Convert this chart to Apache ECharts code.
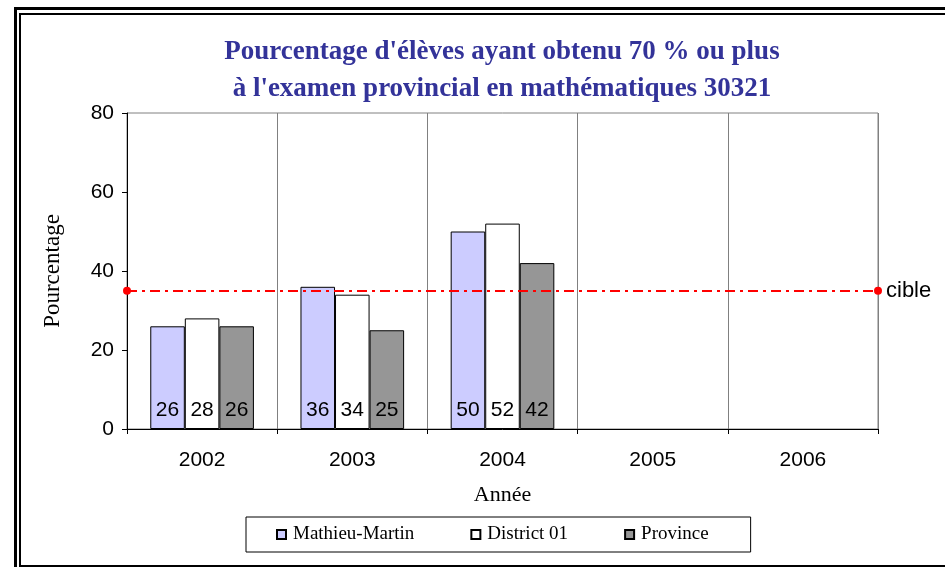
<!DOCTYPE html>
<html>
<head>
<meta charset="utf-8">
<style>
  html, body { margin: 0; padding: 0; background: #fff; }
  #chart { width: 945px; height: 567px; }
</style>
<script src="https://cdn.jsdelivr.net/npm/echarts@6/dist/echarts.min.js"></script>
</head>
<body>
<div id="chart"></div>
<script>
var years = ['2002', '2003', '2004', '2005', '2006'];
var mathieuMartin = [26, 36, 50, null, null];
var district01 = [28, 34, 52, null, null];
var province = [26, 25, 42, null, null];
var cibleValue = 35;
var yTicks = [0, 20, 40, 60, 80];

var myChart = echarts.init(document.getElementById('chart'));

function barSeries(name, data, color) {
    return {
        name: name,
        type: 'bar',
        data: data,
        barGap: '0%',
        barCategoryGap: '31%',
        itemStyle: { color: color, borderColor: '#000', borderWidth: 1 },
        label: {
            show: true,
            position: 'insideBottom',
            distance: 8,
            color: '#000',
            fontFamily: 'Liberation Sans, Arial',
            fontSize: 21
        }
    };
}

var series = [
    barSeries('Mathieu-Martin', mathieuMartin, '#ccccff'),
    barSeries('District 01', district01, '#ffffff'),
    barSeries('Province', province, '#969696')
];

// ligne cible
series[0].markLine = {
    silent: true,
    symbol: ['circle', 'circle'],
    symbolSize: 8,
    lineStyle: { color: '#ff0000', width: 2, type: [10, 5, 3, 5] },
    label: {
        show: true,
        position: 'end',
        distance: 8,
        formatter: 'cible',
        color: '#000',
        fontFamily: 'Liberation Sans, Arial',
        fontSize: 22
    },
    data: [{ yAxis: cibleValue }]
};

myChart.setOption({
    animation: false,
    backgroundColor: '#fff',
    title: {
        text: "Pourcentage d'élèves ayant obtenu 70 % ou plus\nà l'examen provincial en mathématiques 30321",
        left: 497,
        textAlign: 'center',
        top: 29,
        textStyle: {
            color: '#333399',
            fontFamily: 'Liberation Serif, Times New Roman',
            fontWeight: 'bold',
            fontSize: 27,
            lineHeight: 37
        }
    },
    graphic: [
        { type: 'rect', shape: { x: 15.5, y: 8.5, width: 1000, height: 600 },
          style: { fill: 'none', stroke: '#000', lineWidth: 3 } },
        { type: 'rect', shape: { x: 20, y: 14, width: 1000, height: 552 },
          style: { fill: 'none', stroke: '#000', lineWidth: 2 } }
    ],
    legend: {
        left: 246,
        top: 517,
        padding: [8, 42, 8, 30],
        itemGap: 56,
        itemWidth: 9,
        itemHeight: 9,
        icon: 'rect',
        borderColor: '#000',
        borderWidth: 1,
        borderRadius: 0,
        textStyle: {
            color: '#000',
            fontFamily: 'Liberation Serif, Times New Roman',
            fontSize: 19,
            padding: [0, 0, 0, 2]
        },
        data: ['Mathieu-Martin', 'District 01', 'Province']
    },
    grid: {
        left: 127,
        right: 67,
        top: 113,
        bottom: 138,
        show: true,
        borderColor: '#808080',
        borderWidth: 1
    },
    xAxis: {
        type: 'category',
        data: years,
        name: 'Année',
        nameLocation: 'middle',
        nameGap: 55,
        nameTextStyle: { color: '#000', fontFamily: 'Liberation Serif, Times New Roman', fontSize: 22 },
        axisLine: { lineStyle: { color: '#000', width: 1 } },
        axisTick: { show: true, length: 5, lineStyle: { color: '#000' } },
        splitLine: { show: true, lineStyle: { color: '#808080', width: 1 } },
        axisLabel: { margin: 21, color: '#000', fontFamily: 'Liberation Sans, Arial', fontSize: 21 }
    },
    yAxis: {
        type: 'value',
        min: yTicks[0],
        max: yTicks[yTicks.length - 1],
        interval: yTicks[1] - yTicks[0],
        name: 'Pourcentage',
        nameLocation: 'middle',
        nameGap: 63,
        nameRotate: 90,
        nameTextStyle: { color: '#000', fontFamily: 'Liberation Serif, Times New Roman', fontSize: 23 },
        axisLine: { show: true, lineStyle: { color: '#000', width: 1 } },
        axisTick: { show: true, length: 5, lineStyle: { color: '#000' } },
        splitLine: { show: false },
        axisLabel: { margin: 13, color: '#000', fontFamily: 'Liberation Sans, Arial', fontSize: 21 }
    },
    series: series
});
</script>
</body>
</html>
